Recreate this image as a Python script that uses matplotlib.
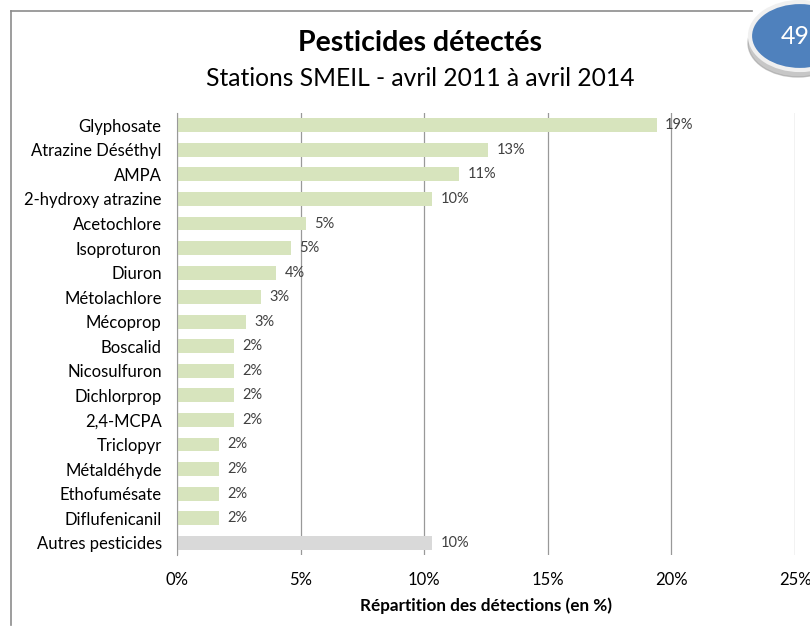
import matplotlib.pyplot as plt
from matplotlib.patches import Ellipse
from matplotlib.lines import Line2D

plt.rcParams['font.family'] = ['Lato', 'DejaVu Sans']

# data (top to bottom)
categories = ['Glyphosate', 'Atrazine Déséthyl', 'AMPA', '2-hydroxy atrazine',
              'Acetochlore', 'Isoproturon', 'Diuron', 'Métolachlore', 'Mécoprop',
              'Boscalid', 'Nicosulfuron', 'Dichlorprop', '2,4-MCPA', 'Triclopyr',
              'Métaldéhyde', 'Ethofumésate', 'Diflufenicanil', 'Autres pesticides']
values = [19.4, 12.6, 11.4, 10.3, 5.2, 4.6, 4.0, 3.4, 2.8,
          2.3, 2.3, 2.3, 2.3, 1.7, 1.7, 1.7, 1.7, 10.3]
labels = ['19%', '13%', '11%', '10%', '5%', '5%', '4%', '3%', '3%',
          '2%', '2%', '2%', '2%', '2%', '2%', '2%', '2%', '10%']
xticks = [0, 5, 10, 15, 20, 25]

green = '#d7e4bd'
grey = '#d9d9d9'
colors = [green] * (len(categories) - 1) + [grey]

fig = plt.figure(figsize=(8.1, 6.28), dpi=100)
W, H = 810, 628
ax = fig.add_axes([177 / W, 1 - 555 / H, (795 - 177) / W, (555 - 113) / H])

n = len(categories)
ypos = list(range(n))
ax.barh(ypos, values, height=0.57, color=colors, zorder=2)
ax.set_ylim(n - 0.5, -0.5)
ax.set_xlim(0, 25)

for y, v, lab in zip(ypos, values, labels):
    ax.text(v + 0.35, y, lab, va='center', ha='left', fontsize=10.5, color='#404040', zorder=3)

ax.set_xticks(xticks)
ax.set_xticklabels([f'{t}%' for t in xticks], fontsize=12)
ax.set_yticks(ypos)
ax.set_yticklabels(categories, fontsize=12)
ax.tick_params(axis='y', length=0, pad=11)
ax.tick_params(axis='x', length=0, pad=12)
ax.grid(axis='x', color='#999999', linewidth=0.9, zorder=0)
for s in ['top', 'right', 'bottom']:
    ax.spines[s].set_visible(False)
ax.spines['left'].set_color('#999999')
ax.set_xlabel('Répartition des détections (en %)', fontsize=12.3, fontweight='bold', labelpad=7)

fig.text(420 / W, 1 - 43 / H, 'Pesticides détectés', fontsize=20.5, fontweight='bold',
         ha='center', va='center')
fig.text(420 / W, 1 - 78 / H, 'Stations SMEIL - avril 2011 à avril 2014', fontsize=17.7,
         ha='center', va='center')

# frame
fig.add_artist(Line2D([11 / W, 752 / W], [1 - 11 / H, 1 - 11 / H], color='#8c8c8c', lw=1.2))
fig.add_artist(Line2D([11 / W, 11 / W], [1 - 11 / H, 1 - 625 / H], color='#8c8c8c', lw=1.2))

# page badge
cx, cy = 800 / W, 1 - 36 / H
fig.add_artist(Ellipse((cx - 2 / W, cy - 7 / H), 100 / W, 68 / H, color='#9a9a9a', alpha=0.55))
fig.add_artist(Ellipse((cx, cy), 100 / W, 68 / H, facecolor='#4f81bd', edgecolor='#f0f0f0', lw=3))
fig.text(795 / W, cy, '49', color='white', fontsize=18, ha='center', va='center')

fig.savefig('out.png', dpi=100)
